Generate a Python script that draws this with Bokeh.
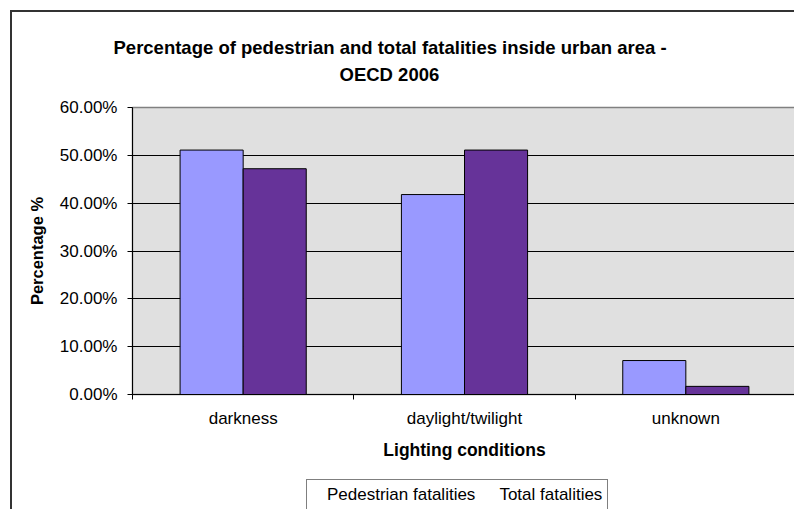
from bokeh.plotting import figure
from bokeh.layouts import column
from bokeh.models import (FactorRange, Range1d, LinearAxis, CategoricalAxis, FixedTicker,
                          PrintfTickFormatter, Legend, LegendItem, ColumnDataSource, Title,
                          CDSView, BooleanFilter)
from bokeh.transform import dodge
from bokeh.embed import file_html
from bokeh.resources import INLINE

# ---- data ----
categories = ["darkness", "daylight/twilight", "unknown"]
pedestrian = [51.1, 41.8, 7.1]
total = [47.2, 51.1, 1.7]
series_names = ["Pedestrian fatalities", "Total fatalities"]
series_colors = ["#9999ff", "#663399"]
y_ticks = [0, 10, 20, 30, 40, 50, 60]
title_lines = ["Percentage of pedestrian and total fatalities inside urban area -", "OECD 2006"]

FONT = "Liberation Sans"
BORDER = "2px solid #333333"
src = ColumnDataSource(dict(cat=categories, ped=pedestrian, tot=total))

p = figure(x_range=FactorRange(*categories), y_range=Range1d(y_ticks[0], y_ticks[-1]),
           width=784, height=460, output_backend="svg", toolbar_location=None,
           x_axis_location=None, y_axis_location="left",
           min_border_left=120, min_border_right=0, min_border_top=95, min_border_bottom=78,
           background_fill_color="#e0e0e0", border_fill_color="white",
           outline_line_color="#808080", outline_line_width=1.5,
           margin=(10, 0, 0, 10),
           styles={"border-left": BORDER, "border-top": BORDER})
p.title = None
p.xgrid.visible = False

# title (two centred lines)
t2 = Title(text=title_lines[1], align="left", offset=207, text_font=FONT, text_font_size="18.5px",
           text_font_style="bold", text_color="black", standoff=0,
           padding=(0, 0, 0, 23))
t1 = Title(text=title_lines[0], align="left", offset=-19, text_font=FONT, text_font_size="18.5px",
           text_font_style="bold", text_color="black", standoff=8)
p.add_layout(t2, "above")
p.add_layout(t1, "above")

# y axis
ya = p.yaxis[0]
ya.ticker = FixedTicker(ticks=y_ticks)
ya.formatter = PrintfTickFormatter(format="%.2f%%")
ya.axis_line_color = "black"
ya.major_tick_line_color = "black"
ya.major_tick_out = 5
ya.major_tick_in = 0
ya.minor_tick_line_color = None
ya.major_label_text_font = FONT
ya.major_label_text_font_size = "17px"
ya.major_label_text_color = "black"
ya.major_label_standoff = 10
ya.axis_label = "Percentage %"
ya.axis_label_text_font = FONT
ya.axis_label_text_font_size = "16.5px"
ya.axis_label_text_font_style = "bold"
ya.axis_label_text_color = "black"
ya.axis_label_standoff = 11

p.ygrid.ticker = FixedTicker(ticks=y_ticks[1:-1])
p.ygrid.grid_line_color = "black"
p.ygrid.grid_line_width = 1

# boundary tick axis (ticks between categories, in synthetic coordinates)
xb = LinearAxis(ticker=FixedTicker(ticks=list(range(len(categories) + 1))),
                major_label_text_font_size="1px", major_label_text_color=None,
                major_tick_out=5, major_tick_in=0,
                minor_tick_line_color=None, axis_line_color="black",
                major_tick_line_color="black", major_label_standoff=0)
p.add_layout(xb, "below")

xc = CategoricalAxis(axis_line_color=None, major_tick_line_color=None,
                     minor_tick_line_color=None,
                     major_label_text_font=FONT, major_label_text_font_size="17px",
                     major_label_text_color="black", major_label_standoff=3,
                     axis_label="Lighting conditions", axis_label_text_font=FONT,
                     axis_label_text_font_size="17.5px", axis_label_text_font_style="bold",
                     axis_label_text_color="black", axis_label_standoff=9)
p.add_layout(xc, "below")

bw = 0.285
r1 = p.vbar(x=dodge("cat", -bw / 2, range=p.x_range), top="ped", width=bw, source=src,
            fill_color=series_colors[0], line_color="black", line_width=1)
r2 = p.vbar(x=dodge("cat", bw / 2, range=p.x_range), top="tot", width=bw, source=src,
            fill_color=series_colors[1], line_color="black", line_width=1)

# legend strip below the chart (same chart border continues on the left);
# its key renderers share the data but draw no rows (all filtered out)
lg = figure(width=784, height=39, x_range=FactorRange(*categories),
            y_range=Range1d(y_ticks[0], y_ticks[-1]),
            output_backend="svg", toolbar_location=None,
            x_axis_location=None, y_axis_location=None,
            min_border_left=0, min_border_right=0, min_border_top=0, min_border_bottom=0,
            background_fill_color="white", border_fill_color="white", outline_line_color=None,
            margin=(0, 0, 0, 10), styles={"border-left": BORDER})
lg.title = None
lg.xgrid.visible = False
lg.ygrid.visible = False
hidden = CDSView(filter=BooleanFilter(booleans=[False] * len(categories)))
k1 = lg.vbar(x=dodge("cat", -bw / 2, range=lg.x_range), top="ped", width=bw, source=src,
             view=hidden, fill_color=series_colors[0], line_color="black")
k2 = lg.vbar(x=dodge("cat", bw / 2, range=lg.x_range), top="tot", width=bw, source=src,
             view=hidden, fill_color=series_colors[1], line_color="black")

legend = Legend(items=[LegendItem(label=series_names[0], renderers=[k1]),
                       LegendItem(label=series_names[1], renderers=[k2])],
                orientation="horizontal", location=(174, -2),
                label_text_font=FONT, label_text_font_size="17px", label_text_color="black",
                glyph_width=10, glyph_height=10, label_standoff=5, spacing=9,
                padding=5, margin=0, border_line_color="black", border_line_width=1,
                background_fill_color="white", background_fill_alpha=1,
                label_height=18)
lg.add_layout(legend, "center")

layout = column(p, lg, spacing=0)
open("out.html", "w").write(file_html(layout, INLINE))
